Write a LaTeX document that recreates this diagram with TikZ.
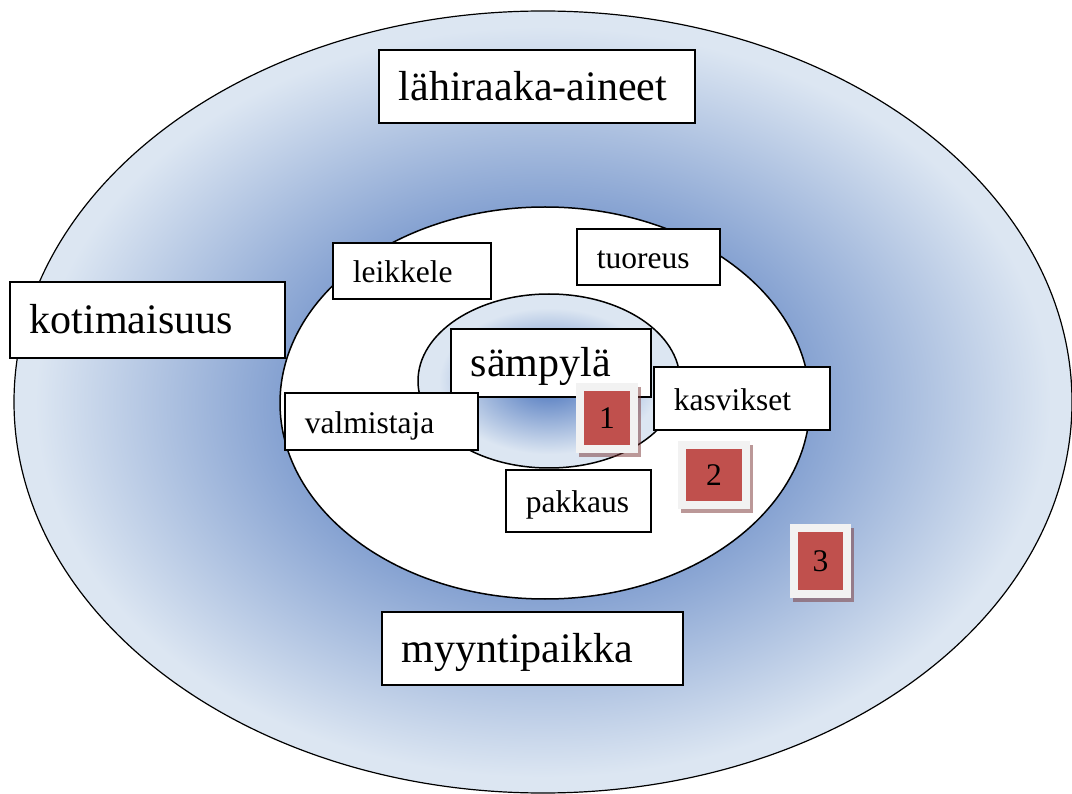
\documentclass[tikz,border=0pt]{standalone}
\usepackage{fontspec}
\setmainfont{Liberation Serif}
\usepackage{tikz}
\usetikzlibrary{shapes}
\usetikzlibrary{calc}
\hyphenpenalty=10000
\exhyphenpenalty=10000
\definecolor{ringlight}{RGB}{220,230,242}
\definecolor{ringdark}{RGB}{130,159,208}
\definecolor{coredark}{RGB}{105,140,200}
\definecolor{numred}{RGB}{192,80,77}
\definecolor{numframe}{RGB}{242,242,242}
\definecolor{numshade}{RGB}{120,50,50}
\pgfdeclareradialshading{ringshade}{\pgfpoint{0bp}{0bp}}{color(0bp)=(ringdark); color(12bp)=(ringdark); color(24bp)=(ringlight); color(50bp)=(ringlight)}
\pgfdeclareradialshading{coreshade}{\pgfpoint{0bp}{0bp}}{color(0bp)=(coredark); color(5bp)=(coredark); color(21bp)=(ringlight); color(50bp)=(ringlight)}
\tikzstyle{labelbox}=[draw,fill=white,line width=1.6pt,inner xsep=20pt,inner ysep=0pt,align=left,anchor=north west]
\tikzstyle{bigtext}=[font=\fontsize{42}{46}\selectfont,text height=32pt,text depth=4pt]
\tikzstyle{smalltext}=[font=\fontsize{31.5}{36}\selectfont,text height=26pt,text depth=2pt]
\tikzstyle{numbox}=[fill=numred,draw=numframe,line width=8pt,inner sep=0pt,font=\fontsize{31.5}{36}\selectfont,text height=21pt,text depth=0pt]
\tikzstyle{numshadow}=[fill=numshade,opacity=0.5]

\begin{document}
\begin{tikzpicture}[x=1pt,y=-1pt]

    \useasboundingbox (0,0) rectangle (1072,794);
    \fill[white] (0,0) rectangle (1072,794);

    \shadedraw[shading=ringshade,line width=1.2pt] (543,402) ellipse [x radius=529pt, y radius=391pt];
    \filldraw[fill=white,line width=1.5pt] (545,403) ellipse [x radius=265pt, y radius=196pt];
    \shadedraw[shading=coreshade,line width=1.5pt] (549,381) ellipse [x radius=131pt, y radius=87pt];

    \foreach \x/\y/\w/\h/\name/\txt/\size in {378/49/276/73/lahiraaka/lähiraaka-aineet/bigtext,
        9/281/235/76/kotimaisuus/kotimaisuus/bigtext, 332/242/118/56/leikkele/leikkele/smalltext,
        576/228/103/56/tuoreus/tuoreus/smalltext, 450/328/160/68/sampyla/sämpylä/bigtext,
        653/366/136/63/kasvikset/kasvikset/smalltext, 284/392/153/57/valmistaja/valmistaja/smalltext,
        505/469/105/62/pakkaus/pakkaus/smalltext, 381/611/261/73/myyntipaikka/myyntipaikka/bigtext}
        \node[labelbox,\size,text width=\w pt,minimum height=\h pt] (\name) at (\x,\y) {\txt};

    \foreach \cx/\cy/\w/\h/\num in {607/418/54/62/1, 714/475/64/60/2, 820.5/561/53/66/3}
    {
        \fill[numshadow] (\cx-\w/2-1,\cy-\h/2) rectangle (\cx+\w/2+7,\cy+\h/2+8);
        \node[numbox,minimum width=\w pt,minimum height=\h pt] (num\num) at (\cx,\cy) {\num};
    }

\end{tikzpicture}
\end{document}
